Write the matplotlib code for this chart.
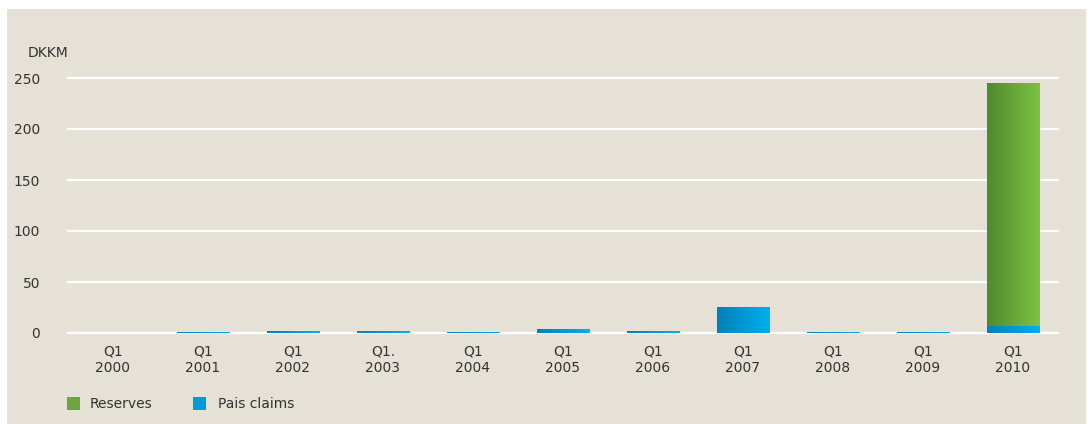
import numpy as np
import matplotlib
matplotlib.use("Agg")
import matplotlib.pyplot as plt
from matplotlib.patches import Rectangle
from matplotlib.colors import LinearSegmentedColormap

# data (DKKM)
quarters = ["Q1\n2000", "Q1\n2001", "Q1\n2002", "Q1.\n2003", "Q1\n2004", "Q1\n2005",
            "Q1\n2006", "Q1\n2007", "Q1\n2008", "Q1\n2009", "Q1\n2010"]
paid_claims = [0, 0.2, 1.5, 1.5, 0.2, 3.5, 1.5, 25, 0.2, 0.2, 6.5]
reserves = [0, 0, 0, 0, 0, 0, 0, 0, 0, 0, 238]
yticks = [0, 50, 100, 150, 200, 250]

bg = "#e5e1d7"
txt = "#333333"
blue_cm = LinearSegmentedColormap.from_list("blue", ["#0081b8", "#00aeef"])
green_cm = LinearSegmentedColormap.from_list("green", ["#4f8a2f", "#7dc242"])
grad = np.linspace(0, 1, 64).reshape(1, -1)

fig = plt.figure(figsize=(10.88, 4.24), dpi=100)
fig.patch.set_facecolor("white")
# beige panel behind the chart
fig.patches.append(Rectangle((7 / 1088, 0), 1079 / 1088, 1 - 9 / 424,
                             transform=fig.transFigure, facecolor=bg,
                             edgecolor="none", zorder=-10))

ax = fig.add_axes([68 / 1088, 1 - 333 / 424, 990 / 1088, 255 / 424])
ax.set_facecolor("none")

width = 0.58
x = np.arange(len(quarters))

def gradient_bar(xc, bottom, height, cmap):
    if height <= 0:
        return
    ax.imshow(grad, cmap=cmap, aspect="auto", interpolation="bilinear",
              extent=[xc - width / 2, xc + width / 2, bottom, bottom + height],
              zorder=3)

for i in x:
    gradient_bar(i, 0, paid_claims[i], blue_cm)
    gradient_bar(i, paid_claims[i], reserves[i], green_cm)

ax.set_xlim(-0.5, len(quarters) - 0.5)
ax.set_ylim(0, 250)

for y in yticks:
    ax.axhline(y, color="white", lw=1.6, zorder=1, clip_on=False)

for s in ax.spines.values():
    s.set_visible(False)
ax.set_yticks(yticks)
ax.set_yticklabels([str(v) for v in yticks])
ax.set_xticks(x)
ax.set_xticklabels(quarters, linespacing=1.25)
ax.tick_params(length=0, labelsize=10, colors=txt)
ax.tick_params(axis="y", pad=20)
ax.tick_params(axis="x", pad=8)

fig.text(28 / 1088, 1 - 53 / 424, "DKKM", fontsize=10, color=txt, va="center")

# legend
for lx, tx, label, c in [(67, 90, "Reserves", "#6aa63a"), (193, 218, "Pais claims", "#009ad6")]:
    fig.patches.append(Rectangle((lx / 1088, 1 - 410 / 424), 13 / 1088, 13 / 424,
                                 transform=fig.transFigure, facecolor=c,
                                 edgecolor="none"))
    fig.text(tx / 1088, 1 - 404 / 424, label, fontsize=10, color=txt, va="center")

fig.savefig("out.png", dpi=100, facecolor=fig.get_facecolor())
